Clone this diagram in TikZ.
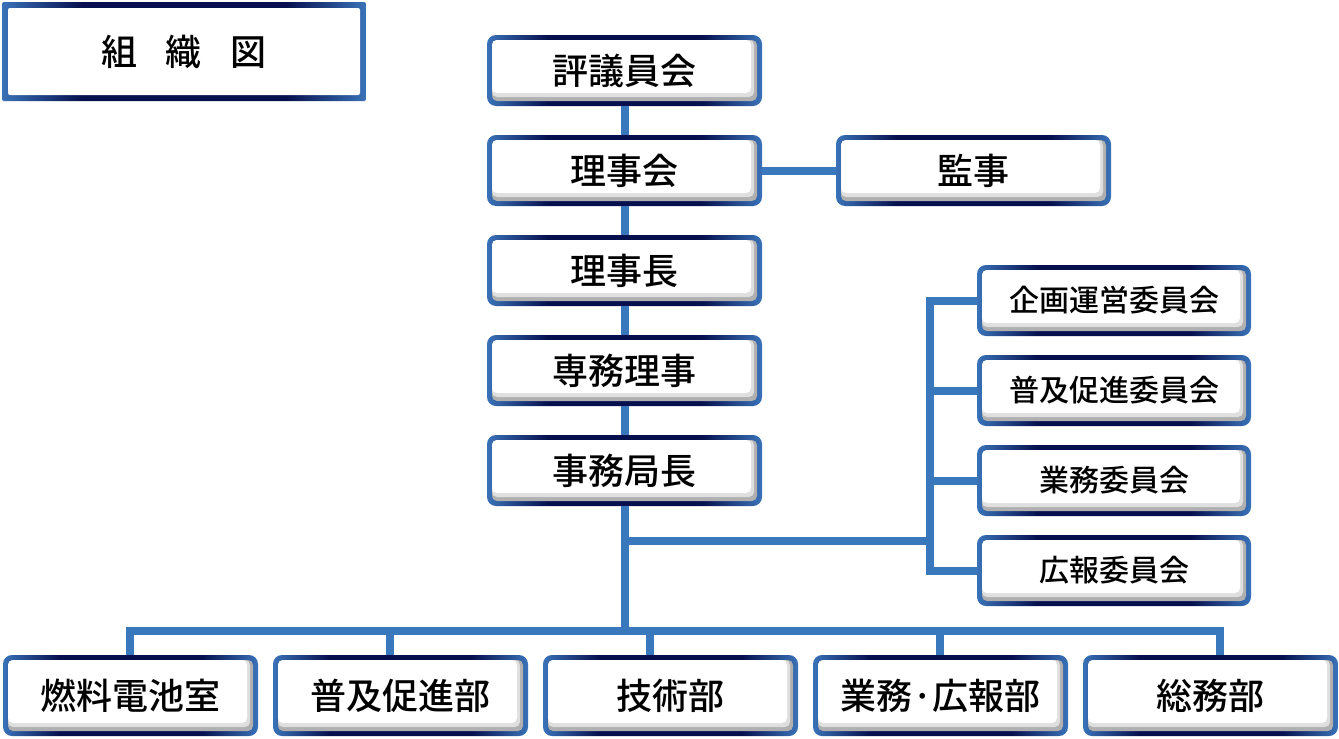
\documentclass[tikz,border=0pt]{standalone}
\usepackage{fontspec}
\newfontfamily\jp{Noto Sans CJK JP Medium}
\usetikzlibrary{positioning}
\definecolor{linkblue}{HTML}{3A78BE}
\definecolor{rimblue}{HTML}{3A72B8}
\definecolor{rimnavy}{HTML}{06104E}
\definecolor{shadegray}{HTML}{B0B0B0}
\pgfdeclarehorizontalshading{rim}{100bp}{color(0bp)=(rimblue); color(25bp)=(rimblue); color(36bp)=(rimnavy); color(64bp)=(rimnavy); color(75bp)=(rimblue); color(100bp)=(rimblue)}
\tikzset{
  rimbox/.style={shading=rim, rounded corners=9pt, inner sep=0pt, text=black,
    path picture={
      \fill[shadegray, rounded corners=5pt] ([shift={(5pt,5pt)}]path picture bounding box.south west) rectangle ([shift={(-5pt,-5pt)}]path picture bounding box.north east);
      \fill[shadegray!40!white, rounded corners=5pt] ([shift={(5pt,9pt)}]path picture bounding box.south west) rectangle ([shift={(-8pt,-5pt)}]path picture bounding box.north east);
      \fill[white, rounded corners=5pt] ([shift={(5pt,13pt)}]path picture bounding box.south west) rectangle ([shift={(-11pt,-5pt)}]path picture bounding box.north east);
    }},
  mainbox/.style={rimbox, minimum width=275pt, minimum height=71pt, font=\jp\fontsize{36}{40}\selectfont},
  cmtbox/.style={rimbox, minimum width=274pt, minimum height=71pt, font=\jp\fontsize{30}{34}\selectfont},
  deptbox/.style={rimbox, minimum width=255pt, minimum height=81pt, font=\jp\fontsize{36}{40}\selectfont},
  titlebox/.style={shading=rim, rounded corners=2pt, inner sep=0pt, minimum width=364pt, minimum height=99pt, font=\jp\fontsize{36}{40}\selectfont,
    path picture={
      \fill[white] ([shift={(6pt,6pt)}]path picture bounding box.south west) rectangle ([shift={(-6pt,-6pt)}]path picture bounding box.north east);
    }},
  link/.style={draw=linkblue, line width=8pt}
}
\begin{document}
\begin{tikzpicture}[x=1pt,y=-1pt]
\useasboundingbox (0,0) rectangle (1339,739);
\node[titlebox] (title) at (184,51.5) {組\hspace{29pt}織\hspace{29pt}図};
\node[mainbox] (hyo) at (624.5,70.5) {評議員会};
\node[mainbox] (riji) at (624.5,170.5) {理事会};
\node[mainbox] (kanji) at (973.5,170.5) {監事};
\node[mainbox] (richo) at (624.5,270.5) {理事長};
\node[mainbox] (senmu) at (624.5,370.5) {専務理事};
\node[mainbox] (jim) at (624.5,470.5) {事務局長};
\foreach \name/\y/\txt in {kikaku/300.5/企画運営委員会, fukyu/390.5/普及促進委員会, gyomu/480.5/業務委員会, kouhou/570.5/広報委員会}
   \node[cmtbox] (\name) at (1114,\y) {\txt};
\foreach \name/\x/\txt in {nenryo/130.5/燃料電池室, fukyubu/400.5/普及促進部, gijutsu/670.5/技術部, gyomubu/940.5/業務·広報部, somu/1210.5/総務部}
   \node[deptbox] (\name) at (\x,695.5) {\txt};
\foreach \a/\b in {hyo/riji,riji/richo,richo/senmu,senmu/jim}
   \draw[link] (\a) -- (\b);
\draw[link] (riji) -- (kanji);
\coordinate (hub) at (624.5,541);
\coordinate (bus) at (624.5,631);
\coordinate (cmtbar) at (930,541);
\draw[link] (jim) -- (bus);
\draw[link] (hub) -- (cmtbar);
\draw[link] (kikaku.west) -| (cmtbar |- kouhou.west) -- (kouhou.west);
\foreach \name in {fukyu,gyomu}
   \draw[link] (\name.west) -- (\name.west -| cmtbar);
\foreach \i/\x in {1/130,2/390,3/650,4/940,5/1220}
   \coordinate (d\i) at (\x,631);
\draw[link] (d1 |- nenryo.north) -- (d1) -- (d5) -- (d5 |- somu.north);
\foreach \i/\name in {2/fukyubu,3/gijutsu,4/gyomubu}
   \draw[link] (d\i) -- (d\i |- \name.north);
\end{tikzpicture}
\end{document}
